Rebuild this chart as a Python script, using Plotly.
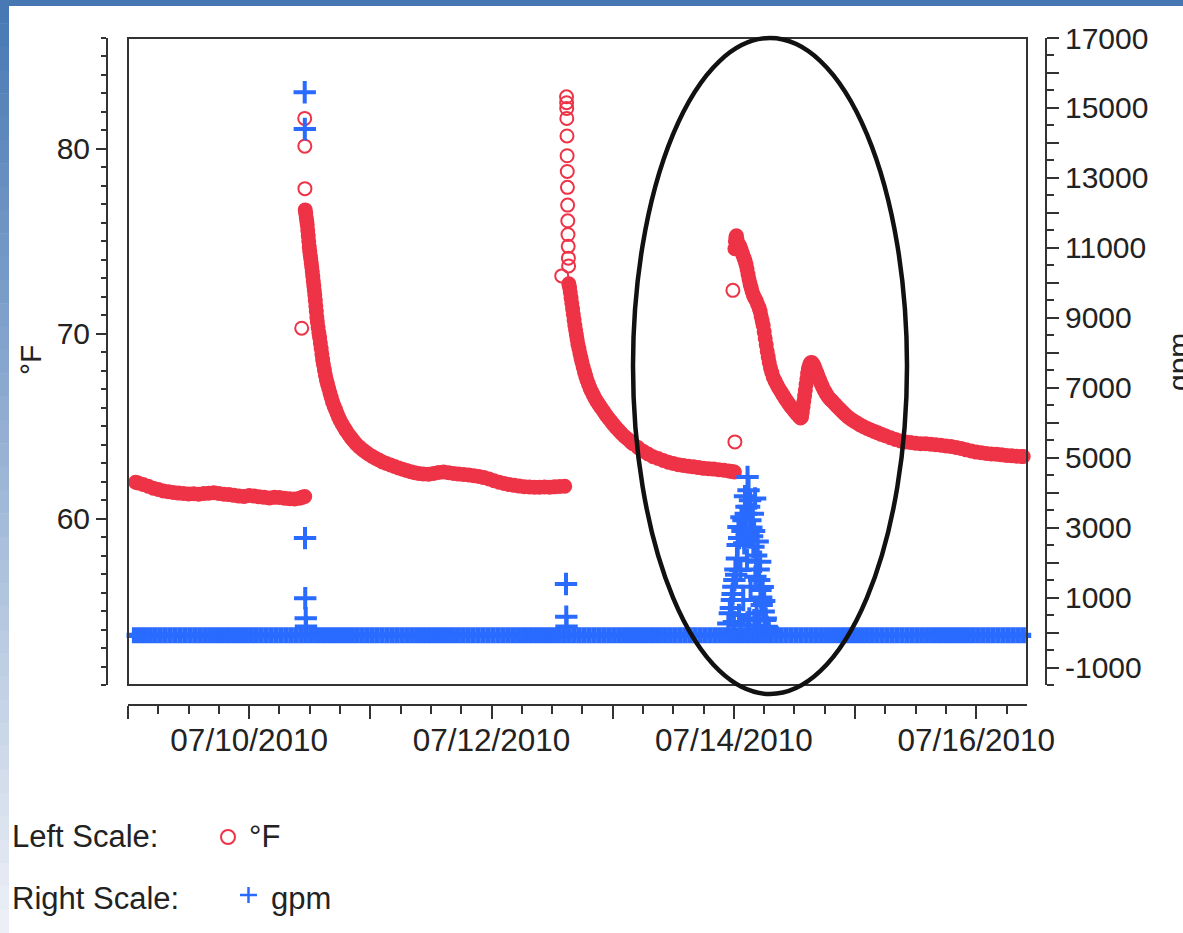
import pandas as pd
import plotly.graph_objects as go

# ---------------------------------------------------------------- data
T0 = pd.Timestamp("2010-07-09 00:00:00")   # hours below are counted from here
X_SPAN_HOURS = 178.05

DAY_TICKS = ["2010-07-09", "2010-07-10", "2010-07-11", "2010-07-12",
             "2010-07-13", "2010-07-14", "2010-07-15", "2010-07-16"]
DAY_LABELS = ["", "07/10/2010", "", "07/12/2010", "", "07/14/2010", "", "07/16/2010"]

TEMP_RANGE = [51, 86]
GPM_RANGE = [-1500, 17000]
GPM_TICKS = [-1000, 0, 1000, 2000, 3000, 4000, 5000, 6000, 7000, 8000, 9000,
             10000, 11000, 12000, 13000, 14000, 15000, 16000, 17000]
GPM_LABELS = ["-1000", "", "1000", "", "3000", "", "5000", "", "7000", "", "9000",
              "", "11000", "", "13000", "", "15000", "", "17000"]

# temperature (°F) logged band: (hours, °F)
TEMP_BAND_1 = [(1.5, 61.97), (2, 61.93), (3, 61.85), (4, 61.75), (5, 61.65), (6, 61.58),
               (7, 61.5), (8, 61.45), (9, 61.42), (10, 61.38), (11, 61.36), (12, 61.33),
               (13, 61.35), (14, 61.32), (15, 61.36), (16, 61.37), (17, 61.4), (18, 61.36),
               (19, 61.32), (20, 61.3), (21, 61.26), (22, 61.22), (23, 61.2), (24, 61.25),
               (25, 61.22), (26, 61.18), (27, 61.15), (28, 61.12), (29, 61.15), (30, 61.14),
               (31, 61.1), (32, 61.08), (33, 61.06), (34, 61.1), (34.5, 61.15), (35.0, 61.2)]
TEMP_DECAY_1 = [(35.10, 76.7), (35.20, 76.5), (35.30, 76.3), (35.40, 76.1), (35.50, 75.9),
                (35.60, 75.6), (35.70, 75.3), (35.80, 75.0), (35.90, 74.7), (36.00, 74.45),
                (36.10, 74.25), (36.20, 74.05), (36.30, 73.8), (36.40, 73.6), (36.50, 73.35),
                (36.60, 73.1), (36.70, 72.85), (36.80, 72.6), (36.90, 72.35), (37.00, 72.1),
                (37.10, 71.8), (37.20, 71.5), (37.30, 71.2), (37.40, 70.9), (37.50, 70.65),
                (37.65, 70.35), (37.80, 70.05), (37.95, 69.8), (38.10, 69.5), (38.25, 69.2),
                (38.40, 68.9), (38.55, 68.6), (38.70, 68.35), (38.90, 68.05), (39.10, 67.75),
                (39.30, 67.5), (39.50, 67.3), (39.75, 67.05), (40.00, 66.8), (40.25, 66.55),
                (40.50, 66.32), (40.80, 66.1), (41.10, 65.9), (41.40, 65.7), (41.70, 65.5),
                (42.00, 65.32), (42.40, 65.12), (42.80, 64.93), (43.20, 64.75), (43.70, 64.55),
                (44.20, 64.37), (44.70, 64.2), (45.20, 64.04), (45.80, 63.88), (46.40, 63.74),
                (47.00, 63.62), (47.60, 63.5), (48.30, 63.38), (49.00, 63.27), (49.70, 63.17),
                (50.40, 63.07), (51.20, 62.98), (52.00, 62.9), (52.80, 62.82), (53.60, 62.74),
                (54.40, 62.67), (55.20, 62.6), (56.00, 62.54), (56.80, 62.48)]
TEMP_BAND_2 = [(57.6, 62.44), (58.5, 62.42), (59.5, 62.4), (60.5, 62.44), (61.5, 62.5),
               (62.5, 62.52), (63.5, 62.48), (64.5, 62.44), (65.5, 62.41), (66.5, 62.39),
               (67.5, 62.36), (68.5, 62.32), (69.5, 62.28), (70.5, 62.22), (71.5, 62.14),
               (72.5, 62.05), (73.5, 61.97), (74.5, 61.9), (75.5, 61.84), (76.5, 61.8),
               (77.5, 61.76), (78.5, 61.73), (79.5, 61.71), (80.5, 61.7), (81.5, 61.7),
               (82.5, 61.71), (83.5, 61.7), (84.5, 61.72), (85.5, 61.74), (86.5, 61.75)]
TEMP_DECAY_2 = [(87.30, 72.7), (87.45, 72.5), (87.60, 72.25), (87.75, 71.95), (87.90, 71.65),
                (88.05, 71.35), (88.20, 71.05), (88.35, 70.75), (88.50, 70.45), (88.65, 70.2),
                (88.80, 69.95), (88.95, 69.7), (89.10, 69.45), (89.30, 69.2), (89.50, 68.95),
                (89.70, 68.7), (89.90, 68.47), (90.15, 68.2), (90.40, 67.95), (90.65, 67.72),
                (90.90, 67.5), (91.20, 67.28), (91.50, 67.06), (91.80, 66.88), (92.15, 66.7),
                (92.50, 66.5), (92.90, 66.32), (93.30, 66.16), (93.70, 66.0), (94.20, 65.8),
                (94.70, 65.6), (95.20, 65.42), (95.70, 65.25), (96.20, 65.08), (96.70, 64.92),
                (97.20, 64.77), (97.70, 64.62), (98.30, 64.46), (98.90, 64.32), (99.50, 64.18)]
TEMP_BAND_3 = [(100.0, 64.05), (101, 63.85), (102, 63.65), (103, 63.5), (104, 63.35),
               (105, 63.25), (106, 63.15), (107, 63.05), (108, 62.98), (109, 62.92),
               (110, 62.88), (111, 62.84), (112, 62.8), (113, 62.76), (114, 62.72),
               (115, 62.7), (116, 62.68), (117, 62.65), (118, 62.62), (119, 62.58),
               (119.6, 62.55), (120.1, 62.52)]
TEMP_DECAY_3 = [(120.20, 74.6), (120.30, 75.0), (120.40, 75.2), (120.50, 75.3), (120.60, 75.1),
                (120.75, 74.9), (120.90, 74.75), (121.05, 74.8), (121.20, 74.7), (121.40, 74.55),
                (121.60, 74.4), (121.80, 74.25), (122.00, 74.1), (122.20, 73.95), (122.40, 73.75),
                (122.60, 73.5), (122.80, 73.2), (123.00, 72.95), (123.20, 72.7), (123.40, 72.5),
                (123.60, 72.3), (123.85, 72.1), (124.10, 71.95), (124.40, 71.8), (124.70, 71.6),
                (125.00, 71.4), (125.20, 71.2), (125.40, 70.95), (125.60, 70.7), (125.80, 70.45),
                (126.00, 70.1), (126.20, 69.75), (126.40, 69.4), (126.60, 69.05), (126.80, 68.75),
                (127.00, 68.45), (127.25, 68.15), (127.50, 67.9), (127.80, 67.65), (128.15, 67.45),
                (128.50, 67.25), (128.90, 67.05), (129.30, 66.88), (129.70, 66.7), (130.10, 66.52),
                (130.50, 66.36), (130.90, 66.2), (131.30, 66.05), (131.70, 65.92), (132.10, 65.78),
                (132.50, 65.65), (132.90, 65.53), (133.20, 65.45), (133.40, 65.5), (133.55, 65.75),
                (133.70, 66.05), (133.85, 66.35), (134.00, 66.65), (134.15, 66.95), (134.30, 67.25),
                (134.45, 67.55), (134.60, 67.85), (134.75, 68.1), (134.95, 68.3), (135.15, 68.42),
                (135.40, 68.45), (135.65, 68.38), (135.90, 68.25), (136.15, 68.08), (136.40, 67.9),
                (136.70, 67.7), (137.00, 67.5), (137.30, 67.3), (137.60, 67.1), (137.95, 66.92),
                (138.30, 66.75), (138.70, 66.58), (139.10, 66.45)]
TEMP_TAIL = [(139.5, 66.35), (140.0, 66.2), (140.5, 66.05), (141.0, 65.92), (141.5, 65.78),
             (142.0, 65.65), (142.6, 65.5), (143.2, 65.38), (143.8, 65.27), (144.4, 65.17),
             (145.0, 65.07), (145.7, 64.97), (146.4, 64.88), (147.1, 64.8), (147.8, 64.72),
             (148.5, 64.64), (149.2, 64.56), (150.0, 64.48), (151, 64.38), (152, 64.28),
             (153, 64.2), (154, 64.15), (155, 64.12), (156, 64.08), (157, 64.05), (158, 64.05),
             (159, 64.02), (160, 64.0), (161, 63.97), (162, 63.93), (163, 63.9), (164, 63.85),
             (165, 63.8), (166, 63.72), (167, 63.66), (168, 63.6), (169, 63.56), (170, 63.52),
             (171, 63.5), (172, 63.48), (173, 63.45), (174, 63.42), (175, 63.4), (176, 63.38),
             (177, 63.36), (177.3, 63.36)]
# isolated temperature readings (spike columns and outliers)
TEMP_ISOLATED = [(34.4, 70.3), (35.0, 81.65), (35.02, 80.15), (35.04, 77.85),
                 (85.9, 73.13), (86.85, 82.82), (86.87, 82.5), (86.89, 82.19), (86.91, 81.65),
                 (86.94, 80.7), (86.97, 79.63), (87.0, 78.78), (87.03, 77.92), (87.07, 76.96),
                 (87.1, 76.11), (87.14, 75.37), (87.18, 74.73), (87.22, 74.09), (87.26, 73.67),
                 (119.8, 72.35), (120.2, 64.15)]

# flow (gpm): hourly base readings starting at hour 1.3
FLOW_BASE_START_H = 1.3
FLOW_BASE_GPM = [
    -80, -80, -80, -80, -80, -80, -80, -80, -80, -80, -80, -80, -80, -80, -80, -80, -80, -80, -80, -80, -80, -80, -80, -80,
    -80, -80, -80, -80, -80, -80, -80, -80, -80, -80, -80, -80, -80, -80, -80, -80, -80, -80, -80, -80, -80, -80, -80, -80,
    -80, -80, -80, -80, -80, -80, -80, -80, -80, -80, -80, -80, -80, -80, -80, -80, -80, -80, -80, -80, -80, -80, -80, -80,
    -80, -80, -80, -80, -80, -80, -80, -80, -80, -80, -80, -80, -80, -80, -80, -80, -80, -80, -80, -80, -80, -80, -80, -80,
    -80, -80, -80, -80, -80, -80, -80, -80, -80, -80, -80, -80, -80, -80, -80, -80, -80, -80, -80, -80, -80, -80, -80, -80,
    -80, -80, -80, -80, -80, -80, -80, -80, -80, -80, -80, -80, -80, -80, -80, -80, -80, -80, -80, -80, -80, -80, -80, -80,
    -80, -80, -80, -80, -80, -80, -80, -80, -80, -80, -80, -80, -80, -80, -80, -80, -80, -80, -80, -80, -80, -80, -80, -80,
    -80, -80, -80, -80, -80, -80, -80, -80, -80]
FLOW_EVENTS = [(35.0, 15450), (35.02, 14400), (35.06, 2700), (35.1, 980), (35.2, 410), (35.25, 170),
               (86.75, 1390), (86.8, 450), (86.85, 170),
               (118.9, 260), (119.2, 550), (119.4, 700), (119.6, 930), (119.75, 1100), (119.9, 1310),
               (120.0, 300), (120.1, 1500), (120.3, 1800), (120.45, 1650), (120.6, 2120), (120.75, 2500),
               (120.9, 3020), (121.0, 500), (121.05, 2700), (121.3, 1790), (121.35, 210), (121.5, 3300),
               (121.7, 2900), (121.85, 930), (121.9, 3210), (122.05, 2550), (122.2, 3900), (122.35, 3400),
               (122.5, 3595), (122.55, 2830), (122.6, 2070), (122.65, 70), (122.7, 4450), (122.9, 4070),
               (123.0, 3600), (123.05, 400), (123.2, 3786), (123.25, 3214), (123.3, 1309), (123.45, 3000),
               (123.6, 2750), (123.75, 3400), (123.85, 2451), (124.0, 2900), (124.05, 350), (124.2, 3834),
               (124.25, 1594), (124.4, 2200), (124.5, 549), (124.7, 2600), (124.9, 1800), (125.0, 1500),
               (125.05, 200), (125.2, 2023), (125.25, 1214), (125.4, 1000), (125.5, 786), (125.7, 1300),
               (125.9, 600), (126.0, 900), (126.2, 357), (126.3, 400), (126.5, 166), (126.7, 120),
               (126.9, 60)]

# ---------------------------------------------------------------- style / layout
W, H = 1183, 933
ML, MR, MT, MB = 107, 137, 38, 228
PW, PH = W - ML - MR, H - MT - MB
RED = "#ee3347"
BLUE = "#296aff"
AXC = "#333333"
TXT = "#222222"
FONT = "Liberation Sans, Arial, sans-serif"


def px(x):
    return (x - ML) / PW


def py(y):
    return (H - MB - y) / PH


def at(hours):
    return [T0 + pd.Timedelta(hours=h) for h in hours]


def split(pairs):
    return [p[0] for p in pairs], [p[1] for p in pairs]


band = TEMP_BAND_1 + TEMP_DECAY_1 + TEMP_BAND_2 + TEMP_DECAY_2 + TEMP_BAND_3 + TEMP_DECAY_3 + TEMP_TAIL
band_h, band_f = split(band)
iso_h, iso_f = split(TEMP_ISOLATED)
base_h = [FLOW_BASE_START_H + i for i in range(len(FLOW_BASE_GPM))]
ev_h, ev_g = split(FLOW_EVENTS)

fig = go.Figure()
fig.add_trace(go.Scatter(x=at(band_h), y=band_f, mode="markers", cliponaxis=False,
                         marker=dict(symbol="circle", size=13, color=RED,
                                     line=dict(color=RED, width=2)), hoverinfo="skip"))
fig.add_trace(go.Scatter(x=at(iso_h), y=iso_f, mode="markers", cliponaxis=False,
                         marker=dict(symbol="circle-open", size=13, color=RED,
                                     line=dict(color=RED, width=2)), hoverinfo="skip"))
fig.add_trace(go.Scatter(x=at(base_h), y=FLOW_BASE_GPM, yaxis="y2", mode="markers", cliponaxis=False,
                         marker=dict(symbol="cross", size=13.3, color=BLUE,
                                     line=dict(width=0)), hoverinfo="skip"))
fig.add_trace(go.Scatter(x=at(ev_h), y=ev_g, yaxis="y2", mode="markers", cliponaxis=False,
                         marker=dict(symbol="cross-thin-open", size=16, color=BLUE,
                                     line=dict(color=BLUE, width=4)), hoverinfo="skip"))

x_end = T0 + pd.Timedelta(hours=X_SPAN_HOURS)
tickfont = dict(family=FONT, size=30, color=TXT)
xtickfont = dict(family=FONT, size=31.5, color=TXT)
legfont = dict(family=FONT, size=31, color=TXT)

shapes = []
# slide background strips (top bar + left gradient bar)
shapes.append(dict(type="rect", xref="paper", yref="paper", x0=px(0), x1=px(W), y0=py(6), y1=py(0),
                   fillcolor="#4677b3", line=dict(width=0), layer="below"))
N = 40
top_c, bot_c = (70, 119, 179), (238, 241, 247)
for i in range(N):
    f = (i + 0.5) / N
    c = tuple(int(round(top_c[k] + (bot_c[k] - top_c[k]) * f)) for k in range(3))
    shapes.append(dict(type="rect", xref="paper", yref="paper", x0=px(0), x1=px(9),
                       y0=py(H * (i + 1) / N + 0.5), y1=py(H * i / N),
                       fillcolor="rgb(%d,%d,%d)" % c, line=dict(width=0), layer="below"))
# plot frame
shapes.append(dict(type="rect", xref="paper", yref="paper", x0=px(128), x1=px(1027),
                   y0=py(685), y1=py(38), line=dict(color=AXC, width=2)))
# highlight ellipse
shapes.append(dict(type="circle", xref="paper", yref="paper", x0=px(633), x1=px(907),
                   y0=py(694), y1=py(38), line=dict(color="#111111", width=4.5)))
# legend symbols
shapes.append(dict(type="circle", xref="paper", yref="paper", x0=px(221), x1=px(235),
                   y0=py(844), y1=py(830), line=dict(color=RED, width=2)))
shapes.append(dict(type="line", xref="paper", yref="paper", x0=px(240), x1=px(257),
                   y0=py(895), y1=py(895), line=dict(color=BLUE, width=2.5)))
shapes.append(dict(type="line", xref="paper", yref="paper", x0=px(248.5), x1=px(248.5),
                   y0=py(903), y1=py(887), line=dict(color=BLUE, width=2.5)))

annotations = [
    dict(text="°F", x=px(30), y=py(360), textangle=-90, showarrow=False,
         xref="paper", yref="paper", xanchor="center", yanchor="middle", font=tickfont),
    dict(text="gpm", x=px(1178), y=py(362), textangle=-90, showarrow=False,
         xref="paper", yref="paper", xanchor="center", yanchor="middle", font=tickfont),
    dict(text="Left Scale:", x=px(10), y=py(836), showarrow=False, xref="paper", yref="paper",
         xanchor="left", yanchor="middle", font=legfont),
    dict(text="°F", x=px(247), y=py(836), showarrow=False, xref="paper", yref="paper",
         xanchor="left", yanchor="middle", font=legfont),
    dict(text="Right Scale:", x=px(10), y=py(898), showarrow=False, xref="paper", yref="paper",
         xanchor="left", yanchor="middle", font=legfont),
    dict(text="gpm", x=px(269), y=py(898), showarrow=False, xref="paper", yref="paper",
         xanchor="left", yanchor="middle", font=legfont),
]

fig.update_layout(
    width=W, height=H,
    margin=dict(l=ML, r=MR, t=MT, b=MB, pad=0),
    paper_bgcolor="white", plot_bgcolor="white",
    showlegend=False,
    font=dict(family=FONT, size=30, color=TXT),
    xaxis=dict(type="date", domain=[px(128), px(1027)], anchor="free", position=0,
               range=[T0.strftime("%Y-%m-%d %H:%M:%S"), x_end.strftime("%Y-%m-%d %H:%M:%S")],
               showgrid=False, zeroline=False, showline=True, linecolor=AXC, linewidth=2,
               ticks="outside", ticklen=13, tickwidth=2, tickcolor=AXC,
               tickmode="array", tickvals=DAY_TICKS, ticktext=DAY_LABELS, tickfont=xtickfont,
               ticklabelstandoff=-6,
               minor=dict(ticks="outside", ticklen=8, tickwidth=2, tickcolor=AXC,
                          tickmode="linear", tick0="2010-07-09", dtick=6 * 3600 * 1000)),
    yaxis=dict(domain=[py(685), py(38)], anchor="free", position=0, range=TEMP_RANGE,
               showgrid=False, zeroline=False, showline=True, linecolor=AXC, linewidth=2,
               ticks="outside", ticklen=10, tickwidth=2, tickcolor=AXC,
               tickmode="linear", tick0=60, dtick=10, tickfont=tickfont,
               minor=dict(ticks="outside", ticklen=5, tickwidth=2, tickcolor=AXC,
                          tickmode="linear", tick0=51, dtick=1)),
    yaxis2=dict(overlaying="y", side="right", anchor="free", position=1, range=GPM_RANGE,
                showgrid=False, zeroline=False, showline=True, linecolor=AXC, linewidth=2,
                ticks="outside", ticklen=12, tickwidth=2, tickcolor=AXC,
                tickmode="array", tickvals=GPM_TICKS, ticktext=GPM_LABELS, tickfont=tickfont,
                minor=dict(ticks="outside", ticklen=7, tickwidth=2, tickcolor=AXC,
                           tickmode="linear", tick0=-1500, dtick=500)),
    shapes=shapes,
    annotations=annotations,
)

fig.write_html("out.html", config={"displayModeBar": False},
               post_script="document.body.style.margin='0px';document.body.style.overflow='hidden';")
